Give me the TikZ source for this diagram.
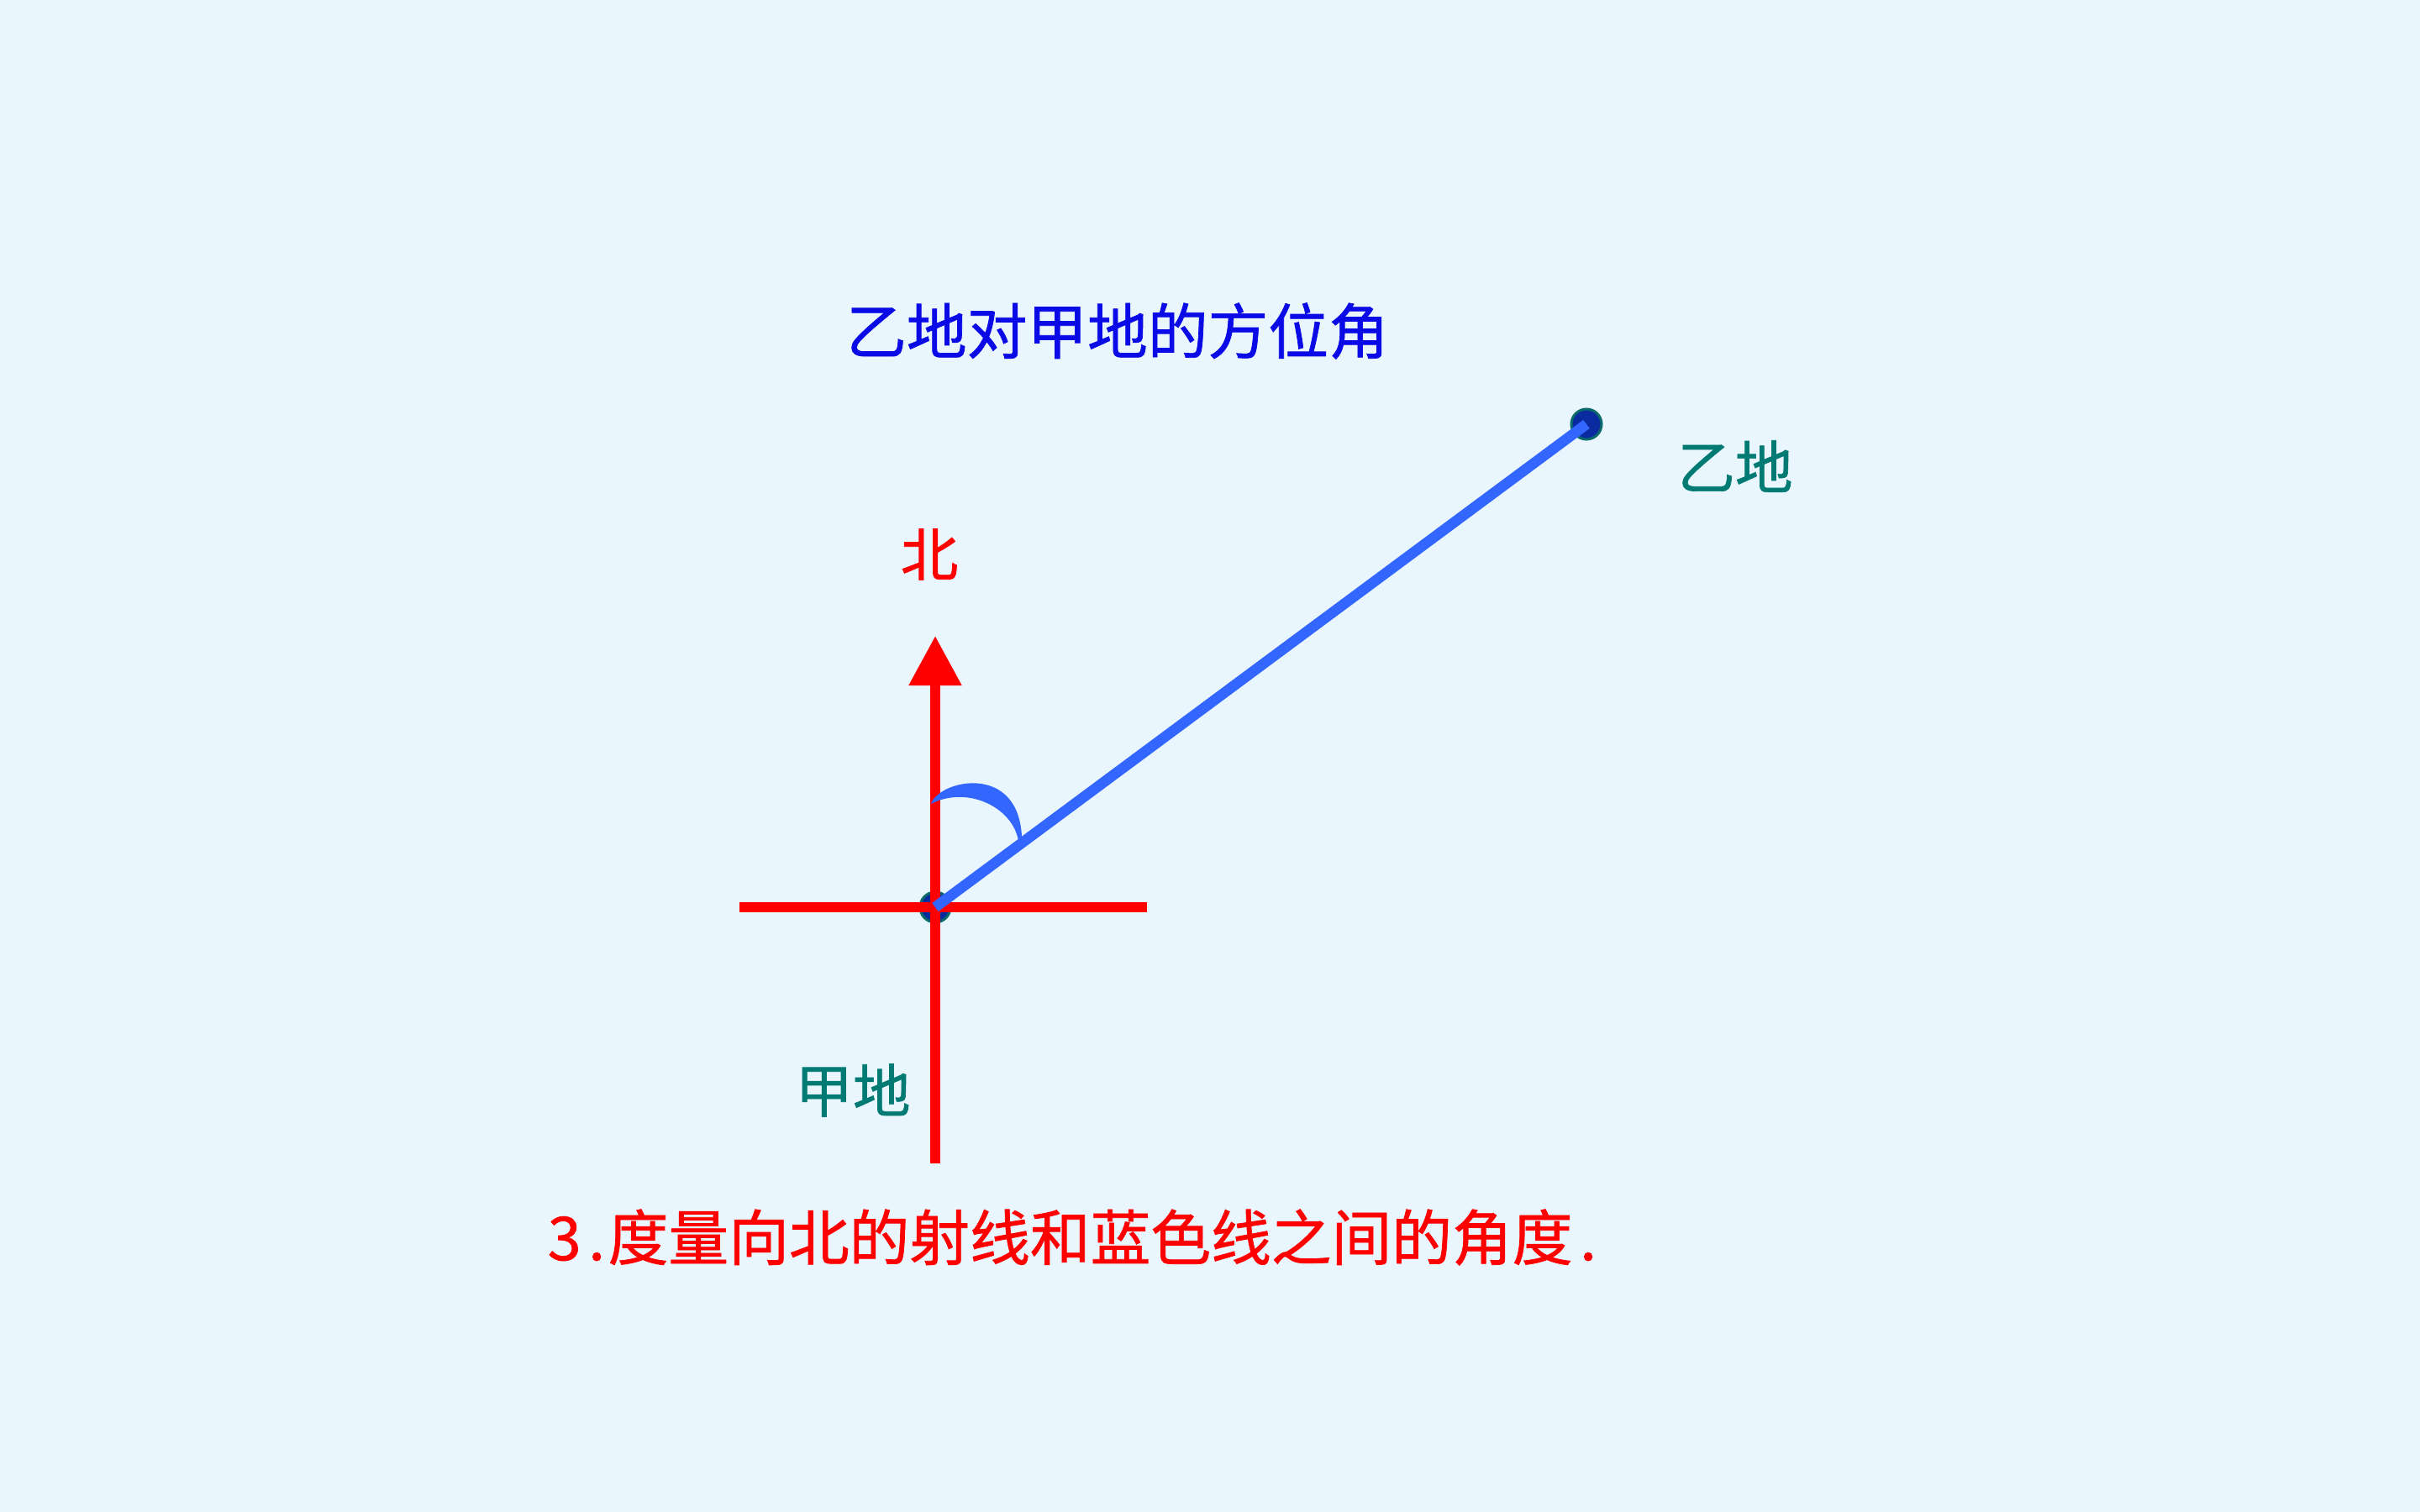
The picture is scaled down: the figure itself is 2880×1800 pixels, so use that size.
\documentclass[tikz,border=0pt]{standalone}
\usepackage{fontspec}
\newfontfamily\cjk[FakeBold=1.0]{Noto Sans CJK SC}
\usetikzlibrary{arrows.meta}
\definecolor{bg}{HTML}{EAF6FE}
\definecolor{northred}{HTML}{FF0000}
\definecolor{rayblue}{HTML}{3366FF}
\definecolor{titleblue}{HTML}{0A0AE6}
\definecolor{placeteal}{HTML}{007A72}
\definecolor{dotfill}{HTML}{0A2AA0}
\definecolor{dotrim}{HTML}{0A6A6A}
\tikzset{
  redline/.style={draw=northred, line width=0.118cm},
  blueline/.style={draw=rayblue, line width=0.125cm},
  placedot/.style={circle, fill=dotfill, draw=dotrim, line width=0.03cm, minimum size=0.36cm, inner sep=0},
  lbl/.style={inner sep=0, font=\cjk\fontsize{19.5pt}{23pt}\selectfont},
  bigtxt/.style={inner sep=0, font=\cjk\fontsize{20.4pt}{24pt}\selectfont},
}
\begin{document}
\begin{tikzpicture}[x=0.01cm, y=-0.01cm]
\useasboundingbox[fill=bg] (0,0) rectangle (2880,1800);
% points
\node[placedot] (jia) at (1113,1080) {};
\node[placedot] (yi) at (1888,505) {};
\coordinate (west) at (880,1080);
\coordinate (east) at (1365,1080);
\coordinate (south) at (1113,1385);
\coordinate (north) at (1113,757);
% red cross and north arrow
\draw[redline] (west) -- (east);
\draw[redline, -{Triangle[length=0.59cm, width=0.6cm]}] (south) -- (north);
% blue ray
\draw[blueline] (jia.center) -- (yi.center);
% angle mark (crescent)
\fill[rayblue] (1108,957) .. controls (1118,928) and (1212,908) .. (1216,996)
  -- (1212,1001) .. controls (1205,960) and (1150,935) .. (1108,957) -- cycle;
% labels
\node[bigtxt, text=titleblue] (title) at (1330,394) {乙地对甲地的方位角};
\node[lbl, text=northred] (beilbl) at (1106,660) {北};
\node[lbl, text=placeteal] (yilbl) at (2065,555) {乙地};
\node[lbl, text=placeteal] (jialbl) at (1015,1298) {甲地};
\node[bigtxt, text=northred] (step3) at (1276,1473) {3\kern0.12em.\kern0.05em度量向北的射线和蓝色线之间的角度\kern0.12em.};
\end{tikzpicture}
\end{document}
